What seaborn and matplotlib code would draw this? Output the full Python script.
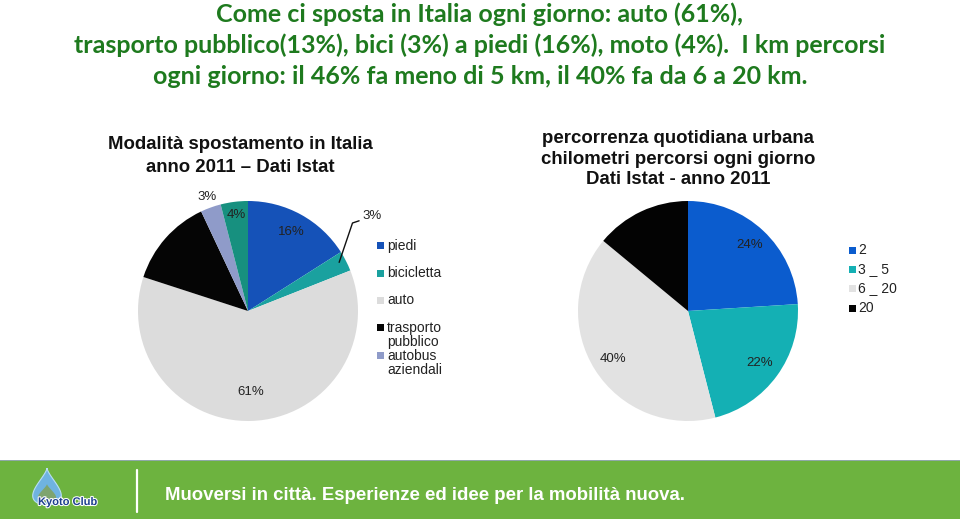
import matplotlib
matplotlib.use("Agg")
import matplotlib.pyplot as plt
import numpy as np
import seaborn as sns
import matplotlib.patheffects as pe
from matplotlib.patches import Rectangle, PathPatch
from matplotlib.path import Path
from matplotlib.lines import Line2D

sns.set_theme(style="white")
plt.rcParams['font.family'] = ['Liberation Sans', 'DejaVu Sans']

# ---------------- data ----------------
title_lines = [
    "Come ci sposta in Italia ogni giorno: auto (61%),",
    "trasporto pubblico(13%), bici (3%) a piedi (16%), moto (4%).  I km percorsi",
    "ogni giorno: il 46% fa meno di 5 km, il 40% fa da 6 a 20 km.",
]

left_title = "Modalità spostamento in Italia\nanno 2011 – Dati Istat"
left_categories = ["piedi", "bicicletta", "auto", "trasporto\npubblico", "autobus\naziendali", "moto"]
left_values = [16, 3, 61, 13, 3, 4]
left_labels = ["16%", "3%", "61%", "", "3%", "4%"]
left_colors = ["#1552b8", "#1aa19f", "#dcdcdc", "#050505", "#8f9bc9", "#17907f"]
left_in_legend = [True, True, True, True, True, False]

right_title = "percorrenza quotidiana urbana\nchilometri percorsi ogni giorno\nDati Istat - anno 2011"
right_categories = ["2", "3 _ 5", "6 _ 20", "20"]
right_values = [24, 22, 40, 14]
right_labels = ["24%", "22%", "40%", ""]
right_colors = ["#0b5cce", "#14b0b4", "#e2e2e2", "#030303"]

footer_text = "Muoversi in città. Esperienze ed idee per la mobilità nuova."

# ---------------- figure ----------------
W, H = 960, 522
fig = plt.figure(figsize=(W / 100, H / 100), dpi=100)
fig.patch.set_facecolor("white")

def px_axes(x0, y0, w, h, z=0):
    ax = fig.add_axes([x0 / W, 1 - (y0 + h) / H, w / W, h / H])
    ax.set_zorder(z)
    ax.patch.set_alpha(0)
    return ax

# title
title_y = [14, 45, 77]
for line, y in zip(title_lines, title_y):
    fig.text(480 / W, 1 - y / H, line, ha="center", va="center",
             fontsize=18, fontweight="bold", color="#1e7a1e",
             family=["Lato", "DejaVu Sans"])

def draw_pie(cx, cy, r, values, colors, labels, label_r):
    ax = px_axes(cx - r, cy - r, 2 * r, 2 * r)
    wedges, _ = ax.pie(values, colors=colors, startangle=90, counterclock=False,
                       wedgeprops=dict(linewidth=0), radius=1)
    ax.set_xlim(-1, 1)
    ax.set_ylim(-1, 1)
    ax.set_aspect("equal")
    ax.axis("off")
    total = float(sum(values))
    start = 90.0
    mids = []
    for v in values:
        span = v / total * 360.0
        mids.append(np.deg2rad(start - span / 2))
        start -= span
    for lab, m, lr in zip(labels, mids, label_r):
        if lab and lr is not None:
            ax.text(lr * np.cos(m), lr * np.sin(m), lab, ha="center", va="center",
                    fontsize=9.5, color="#222222")
    return ax, mids

# left pie
axL, midsL = draw_pie(248, 311, 110, left_values, left_colors, left_labels,
                      [0.82, None, 0.74, None, 1.1, 0.88])
# callout for bicicletta 3%
m = midsL[1]
p0 = (0.93 * np.cos(m), 0.93 * np.sin(m) + 0.02)
axL.add_line(Line2D([p0[0], 0.95, 1.01], [p0[1], 0.8, 0.82], color="#111111",
                    lw=1.0, clip_on=False))
axL.text(1.13, 0.86, left_labels[1], ha="center", va="center", fontsize=9.5,
         color="#222222", clip_on=False)

# right pie
axR, midsR = draw_pie(688, 311, 110, right_values, right_colors, right_labels,
                      [0.82, 0.81, 0.81, None])

# chart sub-titles
fig.text(240 / W, 1 - 156 / H, left_title, ha="center", va="center", fontsize=13.4,
         fontweight="bold", color="#111111", linespacing=1.48)
fig.text(678 / W, 1 - 159 / H, right_title, ha="center", va="center", fontsize=13.4,
         fontweight="bold", color="#111111", linespacing=1.3)

# left legend
leg_y = [246, 273, 300, 335, 363]
for cat, col, y, show in zip(left_categories, left_colors, leg_y + [0], left_in_legend):
    if not show:
        continue
    nl = cat.count("\n")
    ytop = y - 8 * nl
    fig.patches.append(Rectangle((377 / W, 1 - (ytop + 3.5) / H), 7 / W, 7 / H,
                                 transform=fig.transFigure, color=col, lw=0))
    fig.text(387 / W, 1 - y / H, cat, ha="left", va="center", fontsize=10,
             color="#222222", linespacing=1.0)

# right legend
leg_yr = [250, 269, 288, 308]
for cat, col, y in zip(right_categories, right_colors, leg_yr):
    fig.patches.append(Rectangle((849 / W, 1 - (y + 3.5) / H), 7 / W, 7 / H,
                                 transform=fig.transFigure, color=col, lw=0))
    fig.text(858 / W, 1 - y / H, cat, ha="left", va="center", fontsize=10,
             color="#222222")

# footer band
fig.patches.append(Rectangle((0, 1 - 519 / H), 1, 59 / H, transform=fig.transFigure,
                             color="#6db33f", lw=0))
fig.patches.append(Rectangle((0, 1 - 461 / H), 1, 1.5 / H, transform=fig.transFigure,
                             color="#8fa8a8", lw=0))
fig.add_artist(Line2D([137 / W, 137 / W], [1 - 470 / H, 1 - 512 / H],
                      transform=fig.transFigure, color="white", lw=1.6))
fig.text(165 / W, 1 - 495 / H, footer_text, ha="left", va="center", fontsize=13.4,
         fontweight="bold", color="white",
         family=["Liberation Sans Narrow", "Liberation Sans", "DejaVu Sans"])

# logo: water drop + name
axLogo = px_axes(20, 462, 100, 56, z=5)
axLogo.set_xlim(0, 100)
axLogo.set_ylim(56, 0)
axLogo.axis("off")
t = np.linspace(0, 2 * np.pi, 200)
dx = 47 - 20
drop_x = dx + 22 * np.sin(t) * (1 - np.cos(t)) / 2
drop_y = 6 + 37 * (1 - np.cos(t)) / 2
axLogo.add_patch(PathPatch(Path(np.column_stack([drop_x, drop_y])),
                           facecolor="#6fb3e0", edgecolor="#b9def5", lw=0.8))
axLogo.add_patch(PathPatch(Path(np.column_stack([dx + 14 * np.sin(t) * (1 - np.cos(t)) / 2,
                                                   22 + 18 * (1 - np.cos(t)) / 2])),
                           facecolor="#7ea46e", edgecolor="none"))
axLogo.text(18, 40, "Kyoto Club", ha="left", va="center", fontsize=8, fontweight="bold",
            color="#1d3f8f",
            path_effects=[pe.withStroke(linewidth=1.5, foreground="white")])

fig.savefig("out.png", dpi=100, facecolor="white")
